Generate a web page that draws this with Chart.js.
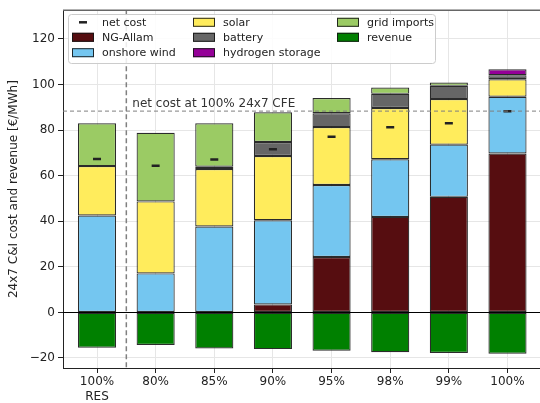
<!DOCTYPE html>
<html>
<head>
<meta charset="utf-8">
<script src="https://cdn.jsdelivr.net/npm/chart.js@4/dist/chart.umd.min.js"></script>
<style>
  html, body { margin: 0; padding: 0; overflow: hidden; background: #fff; }
  canvas { display: block; }
</style>
</head>
<body>
<canvas id="c" width="548" height="403"></canvas>
<script>
// Scenario categories (x axis)
const categories = [['100%', 'RES'], '80%', '85%', '90%', '95%', '98%', '99%', '100%'];

// Cost components [€/MWh], stacked bottom to top
const ngAllam         = [0, 0, 0, 3.5, 24.3, 41.9, 50.7, 69.7];
const onshoreWind     = [42.5, 17.1, 37.7, 36.9, 31.6, 25.3, 22.9, 24.9];
const solar           = [21.7, 31.6, 25.2, 28.2, 25.4, 22.5, 20.0, 7.7];
const battery         = [0, 0, 1.0, 6.2, 6.1, 6.2, 5.8, 1.8];
const hydrogenStorage = [0, 0, 0, 0, 0, 0, 0, 2.6];
const gridImports     = [18.8, 30.1, 19.1, 13.0, 6.7, 2.8, 1.5, 0];

// Revenue (negative) and resulting net cost
const revenue = [-15.5, -14.3, -15.8, -16.1, -16.8, -17.5, -17.8, -18.1];
const netCost = [67.3, 64.3, 67.1, 71.6, 77.1, 81.2, 83.0, 88.3];

// Axis ticks
const yTicks = [-20, 0, 20, 40, 60, 80, 100, 120];

const FONT = "'DejaVu Sans', sans-serif";

const series = [
  { label: 'NG-Allam',         values: ngAllam,         color: '#560d10' },
  { label: 'onshore wind',     values: onshoreWind,     color: '#74c6f0' },
  { label: 'solar',            values: solar,           color: '#ffec5c' },
  { label: 'battery',          values: battery,         color: '#666666' },
  { label: 'hydrogen storage', values: hydrogenStorage, color: '#950098' },
  { label: 'grid imports',     values: gridImports,     color: '#9bcb64' },
  { label: 'revenue',          values: revenue,         color: '#008000' }
];

const barDatasets = series.map(s => ({
  type: 'bar',
  label: s.label,
  data: s.values.map((v, i) => ({ x: i, y: v === 0 ? null : v })),
  backgroundColor: s.color,
  borderColor: 'rgba(20,20,20,0.9)',
  borderWidth: 1.2,
  borderSkipped: false,
  barPercentage: 0.65,
  categoryPercentage: 1,
  order: 2
}));

const netCostDataset = {
  type: 'line',
  label: 'net cost',
  data: netCost.map((v, i) => ({ x: i, y: v })),
  showLine: false,
  pointStyle: 'line',
  pointRadius: 4,
  pointHoverRadius: 4,
  pointBorderWidth: 2.5,
  borderColor: '#222',
  backgroundColor: '#222',
  order: 0
};

// Reference levels: separator between RES and CFE scenarios, and the 100% CFE net cost
const separatorAt = 0.5;
const fullCfeNetCost = netCost[netCost.length - 1];

const overlay = {
  id: 'overlay',
  beforeDatasetsDraw(chart) {
    const { ctx, chartArea: a, scales: { x } } = chart;
    const px = x.getPixelForValue(separatorAt);
    ctx.save();
    ctx.strokeStyle = '#808080';
    ctx.lineWidth = 1.5;
    ctx.setLineDash([5, 3]);
    ctx.beginPath();
    ctx.moveTo(px, a.top);
    ctx.lineTo(px, a.bottom);
    ctx.stroke();
    ctx.restore();
  },
  afterDatasetsDraw(chart) {
    const { ctx, chartArea: a, scales: { x, y } } = chart;
    ctx.save();
    // zero line
    const y0 = Math.round(y.getPixelForValue(0)) + 0.5;
    ctx.strokeStyle = '#000';
    ctx.lineWidth = 1;
    ctx.beginPath();
    ctx.moveTo(a.left, y0);
    ctx.lineTo(a.right, y0);
    ctx.stroke();
    // net cost at 100% CFE
    const yr = y.getPixelForValue(fullCfeNetCost);
    ctx.strokeStyle = 'rgba(128,128,128,0.8)';
    ctx.lineWidth = 1.2;
    ctx.setLineDash([4, 3]);
    ctx.beginPath();
    ctx.moveTo(a.left, yr);
    ctx.lineTo(a.right, yr);
    ctx.stroke();
    ctx.setLineDash([]);
    ctx.fillStyle = '#333';
    ctx.font = '12px ' + FONT;
    ctx.textAlign = 'left';
    ctx.textBaseline = 'bottom';
    ctx.fillText('net cost at 100% 24x7 CFE', x.getPixelForValue(separatorAt) + 6, yr - 1);
    ctx.restore();
  },
  afterDraw(chart) {
    const { ctx, chartArea: a } = chart;
    ctx.save();
    // top spine
    ctx.strokeStyle = '#666';
    ctx.lineWidth = 1.5;
    ctx.beginPath();
    ctx.moveTo(a.left, a.top);
    ctx.lineTo(a.right + 5, a.top);
    ctx.stroke();

    // legend (three columns)
    const lx = 68, ly = 14, lw = 367, lh = 49;
    ctx.fillStyle = 'rgba(255,255,255,0.85)';
    ctx.strokeStyle = '#cccccc';
    ctx.lineWidth = 1;
    ctx.beginPath();
    ctx.roundRect(lx + 0.5, ly + 0.5, lw, lh, 3);
    ctx.fill();
    ctx.stroke();

    const cols = [72, 193, 337];
    const rows = [22.3, 37.3, 52.7];
    const entries = [
      { label: 'net cost', marker: true },
      ...series.map(s => ({ label: s.label, color: s.color }))
    ];
    ctx.font = '11px ' + FONT;
    ctx.textBaseline = 'middle';
    ctx.textAlign = 'left';
    entries.forEach((e, k) => {
      const cx = cols[Math.floor(k / 3)];
      const cy = rows[k % 3];
      if (e.marker) {
        ctx.strokeStyle = '#222';
        ctx.lineWidth = 2.5;
        ctx.beginPath();
        ctx.moveTo(cx + 7, cy);
        ctx.lineTo(cx + 15, cy);
        ctx.stroke();
      } else {
        ctx.fillStyle = e.color;
        ctx.fillRect(cx, cy - 4.5, 22, 9);
        ctx.strokeStyle = 'rgba(20,20,20,0.9)';
        ctx.lineWidth = 1;
        ctx.strokeRect(cx + 0.5, cy - 4, 21, 8);
      }
      ctx.fillStyle = '#222';
      ctx.fillText(e.label, cx + 30, cy + 0.5);
    });
    ctx.restore();
  }
};

new Chart(document.getElementById('c'), {
  type: 'bar',
  data: { datasets: [...barDatasets, netCostDataset] },
  options: {
    responsive: false,
    animation: false,
    layout: { padding: { top: 7, right: 1, left: 0, bottom: 0 } },
    plugins: { legend: { display: false }, tooltip: { enabled: false } },
    scales: {
      x: {
        type: 'linear',
        stacked: true,
        offset: false,
        min: -0.58,
        max: 7.58,
        afterBuildTicks(scale) { scale.ticks = categories.map((_, i) => ({ value: i })); },
        afterFit(scale) { scale.height = 35; },
        ticks: {
          autoSkip: false,
          maxRotation: 0,
          padding: 2,
          color: '#222',
          font: { family: FONT, size: 12 },
          callback: (v) => categories[v]
        },
        grid: { offset: false, color: '#e6e6e6', lineWidth: 1, drawTicks: true, tickLength: 5, tickColor: '#222' },
        border: { color: '#222', width: 1 }
      },
      y: {
        stacked: true,
        min: -24.4,
        max: 132.6,
        afterBuildTicks(scale) { scale.ticks = yTicks.map(v => ({ value: v })); },
        afterFit(scale) { scale.width = 63; },
        ticks: {
          padding: 3,
          color: '#222',
          font: { family: FONT, size: 12 },
          callback: (v) => (v < 0 ? '\u2212' + Math.abs(v) : String(v))
        },
        grid: { color: '#e6e6e6', lineWidth: 1, drawTicks: true, tickLength: 5, tickColor: '#222' },
        border: { color: '#222', width: 1 },
        title: {
          display: true,
          text: '24x7 C&I cost and revenue [\u20ac/MWh]',
          color: '#222',
          font: { family: FONT, size: 12 },
          padding: { top: 7, bottom: 0 }
        }
      }
    }
  },
  plugins: [overlay]
});
</script>
</body>
</html>
